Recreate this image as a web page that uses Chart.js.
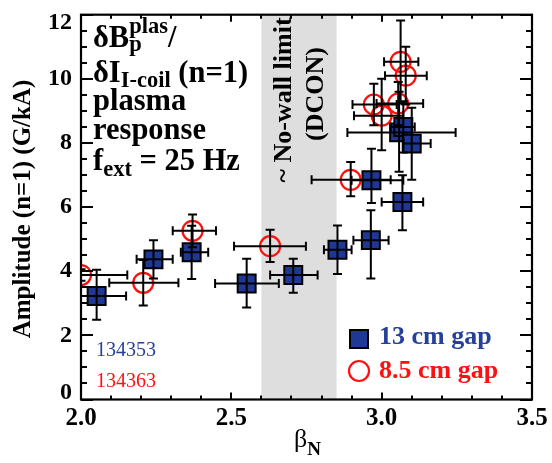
<!DOCTYPE html>
<html>
<head>
<meta charset="utf-8">
<script src="https://cdn.jsdelivr.net/npm/chart.js@4/dist/chart.umd.min.js"></script>
<style>
html,body{margin:0;padding:0;background:#fff;}
canvas{display:block;}
</style>
</head>
<body>
<canvas id="c" width="552" height="463"></canvas>
<script>
// ---- data ----
// 13 cm gap (shot 134353)
const blueX   = [2.052, 2.241, 2.368, 2.551, 2.706, 2.853, 2.964, 2.966, 3.069, 3.058, 3.072, 3.100];
const blueY   = [3.23,  4.37,  4.59,  3.62,  3.88,  4.67,  4.97,  6.84,  6.16,  8.33,  8.50,  7.98];
const blueXLo = [1.95,  2.185, 2.332, 2.446, 2.629, 2.808, 2.906, 2.900, 3.000, 2.886, 3.030, 3.072];
const blueXHi = [2.150, 2.305, 2.423, 2.658, 2.787, 2.900, 3.023, 3.072, 3.138, 3.246, 3.110, 3.163];
const blueYLo = [2.49,  3.77,  3.76,  2.87,  3.33,  3.91,  3.77,  6.13,  5.28,  7.10,  7.70,  6.85];
const blueYHi = [4.05,  4.97,  5.42,  4.39,  4.39,  5.43,  5.90,  7.82,  6.99,  9.60,  9.30,  9.10];
// 8.5 cm gap (shot 134363)
const redX    = [2.000, 2.207, 2.371, 2.629, 2.897, 2.974, 3.000, 3.055, 3.063, 3.080];
const redY    = [3.88,  3.64,  5.26,  4.78,  6.85,  9.20,  8.85,  9.23,  10.53, 10.10];
const redXLo  = [1.850, 2.094, 2.305, 2.509, 2.767, 2.903, 2.908, 2.983, 3.008, 3.011];
const redXHi  = [2.154, 2.324, 2.449, 2.748, 3.030, 3.050, 3.072, 3.138, 3.122, 3.150];
const redYLo  = [3.70,  2.93,  4.75,  4.29,  6.34,  8.55,  7.77,  8.55,  9.24,  9.20];
const redYHi  = [4.06,  4.35,  5.77,  5.29,  7.41,  9.85,  10.00, 9.90,  11.82, 11.00];
// axes
const xTickValues = [2.0, 2.5, 3.0, 3.5];
const yTickValues = [0, 2, 4, 6, 8, 10, 12];
const xMinorStep = 0.1, yMinorStep = 0.5;
const bandRange = [2.6, 2.85];
const seriesLabels = ['13 cm gap', '8.5 cm gap'];
const shotLabels = ['134353', '134363'];

const BLUE_FILL = '#1f3896';
const BLUE_TEXT = '#26409b';
const RED = '#ff1010';
const SERIF = '"Liberation Serif", "Times New Roman", serif';

function pts(xs, ys){ return xs.map((x,i)=>({x:x, y:ys[i]})); }

const bandPlugin = {
  id: 'band',
  beforeDatasetsDraw(chart){
    const {ctx, chartArea:a, scales:{x}} = chart;
    ctx.save();
    const x0 = x.getPixelForValue(bandRange[0]), x1 = x.getPixelForValue(bandRange[1]);
    ctx.fillStyle = '#dedede';
    ctx.fillRect(x0, a.top, x1 - x0, a.bottom - a.top);
    ctx.fillStyle = '#000';
    ctx.font = 'bold 26px ' + SERIF;
    ctx.textAlign = 'center';
    ctx.textBaseline = 'alphabetic';
    ctx.save(); ctx.translate(291, 100); ctx.rotate(-Math.PI/2); ctx.fillText('~ No-wall limit', 0, 0); ctx.restore();
    ctx.save(); ctx.translate(322.5, 94); ctx.rotate(-Math.PI/2); ctx.fillText('(DCON)', 0, 0); ctx.restore();
    ctx.restore();
  }
};

function drawErr(ctx, x, y, xs, ys, xlo, xhi, ylo, yhi){
  const cap = 4.5;
  for (let i=0;i<xs.length;i++){
    const px = x.getPixelForValue(xs[i]), py = y.getPixelForValue(ys[i]);
    const pxl = x.getPixelForValue(xlo[i]), pxh = x.getPixelForValue(xhi[i]);
    const pyl = y.getPixelForValue(ylo[i]), pyh = y.getPixelForValue(yhi[i]);
    ctx.beginPath();
    ctx.moveTo(pxl, py); ctx.lineTo(pxh, py);
    ctx.moveTo(pxl, py-cap); ctx.lineTo(pxl, py+cap);
    ctx.moveTo(pxh, py-cap); ctx.lineTo(pxh, py+cap);
    ctx.moveTo(px, pyl); ctx.lineTo(px, pyh);
    ctx.moveTo(px-cap, pyl); ctx.lineTo(px+cap, pyl);
    ctx.moveTo(px-cap, pyh); ctx.lineTo(px+cap, pyh);
    ctx.stroke();
  }
}

function runs(ctx, x, parts){
  for (const p of parts){
    ctx.font = p.f;
    ctx.fillText(p.t, x, p.y);
    if (!p.stack) x += ctx.measureText(p.t).width;
  }
  return x;
}

const decoPlugin = {
  id: 'deco',
  afterDatasetsDraw(chart){
    const {ctx, chartArea:a, scales:{x, y}} = chart;
    ctx.save();
    ctx.beginPath(); ctx.rect(a.left, a.top, a.right-a.left, a.bottom-a.top); ctx.clip();
    ctx.strokeStyle = '#000'; ctx.lineWidth = 2;
    drawErr(ctx, x, y, blueX, blueY, blueXLo, blueXHi, blueYLo, blueYHi);
    drawErr(ctx, x, y, redX, redY, redXLo, redXHi, redYLo, redYHi);
    ctx.restore();
  },
  afterDraw(chart){
    const {ctx, chartArea:a, scales:{x, y}} = chart;
    ctx.save();
    ctx.strokeStyle = '#000';
    // ticks (inward)
    ctx.lineWidth = 2;
    ctx.beginPath();
    for (let v = x.min; v <= x.max + 1e-9; v += xMinorStep){
      const major = xTickValues.some(t => Math.abs(t - v) < 1e-6);
      const L = major ? 7 : 4;
      const px = Math.round(x.getPixelForValue(v));
      ctx.moveTo(px, a.bottom); ctx.lineTo(px, a.bottom - L);
      ctx.moveTo(px, a.top); ctx.lineTo(px, a.top + L);
    }
    for (let v = y.min; v <= y.max + 1e-9; v += yMinorStep){
      const major = yTickValues.some(t => Math.abs(t - v) < 1e-6);
      const L = major ? 12 : 6;
      const py = Math.round(y.getPixelForValue(v));
      ctx.moveTo(a.left, py); ctx.lineTo(a.left + L, py);
      ctx.moveTo(a.right, py); ctx.lineTo(a.right - L, py);
    }
    ctx.stroke();
    // frame
    ctx.lineWidth = 2.2;
    ctx.strokeRect(a.left, a.top, a.right - a.left, a.bottom - a.top);

    // tick labels
    ctx.fillStyle = '#000';
    ctx.font = 'bold 25px ' + SERIF;
    ctx.textAlign = 'center'; ctx.textBaseline = 'alphabetic';
    for (const v of xTickValues){
      ctx.fillText(v.toFixed(1), x.getPixelForValue(v), 425);
    }
    ctx.font = 'bold 24px ' + SERIF;
    ctx.textAlign = 'right'; ctx.textBaseline = 'middle';
    for (const v of yTickValues){
      let py = y.getPixelForValue(v);
      py = Math.min(Math.max(py, a.top + 8), a.bottom - 7);
      ctx.fillText(String(v), 72, py);
    }
    // axis titles
    ctx.save();
    ctx.translate(30, 209); ctx.rotate(-Math.PI/2);
    ctx.textAlign = 'center'; ctx.textBaseline = 'alphabetic';
    ctx.font = 'bold 25px ' + SERIF;
    ctx.fillText('Amplitude (n=1) (G/kA)', 0, 0);
    ctx.restore();
    ctx.textAlign = 'left'; ctx.textBaseline = 'alphabetic';
    runs(ctx, 294, [
      {t:'β', f:'26px ' + SERIF, y:447},
      {t:'N', f:'bold 19px ' + SERIF, y:455}
    ]);

    // annotation block
    const big = 'bold 30.5px ' + SERIF, sm = 'bold 22.5px ' + SERIF;
    let xx = runs(ctx, 93, [{t:'δB', f:big, y:46.7}]);
    ctx.font = sm;
    ctx.fillText('p', xx, 51);
    let xx2 = runs(ctx, xx, [{t:'plas', f:sm, y:32.5}]);
    runs(ctx, xx2, [{t:'/', f:big, y:46.7}]);
    runs(ctx, 93, [{t:'δI', f:big, y:81.7}, {t:'I-coil', f:sm, y:87}, {t:' (n=1)', f:big, y:81.7}]);
    runs(ctx, 93, [{t:'plasma', f:big, y:110}]);
    runs(ctx, 93, [{t:'response', f:big, y:139}]);
    runs(ctx, 93, [{t:'f', f:big, y:170}, {t:'ext', f:sm, y:175.5}, {t:' = 25 Hz', f:big, y:170}]);

    // shot numbers
    ctx.font = '20px ' + SERIF;
    ctx.fillStyle = BLUE_TEXT; ctx.fillText(shotLabels[0], 96, 356);
    ctx.fillStyle = RED; ctx.fillText(shotLabels[1], 96, 387);

    // legend
    ctx.fillStyle = BLUE_FILL; ctx.strokeStyle = '#000'; ctx.lineWidth = 2;
    ctx.fillRect(350, 330, 18, 18); ctx.strokeRect(350, 330, 18, 18);
    ctx.beginPath(); ctx.arc(359, 371, 10, 0, Math.PI*2);
    ctx.strokeStyle = RED; ctx.lineWidth = 2.2; ctx.stroke();
    ctx.font = 'bold 26px ' + SERIF;
    ctx.fillStyle = BLUE_TEXT; ctx.fillText(seriesLabels[0], 379, 344);
    ctx.fillStyle = RED; ctx.fillText(seriesLabels[1], 379, 378);
    ctx.restore();
  }
};

new Chart(document.getElementById('c'), {
  type: 'scatter',
  data: {
    datasets: [
      { label: seriesLabels[1], data: pts(redX, redY), pointStyle: 'circle', pointRadius: 10,
        backgroundColor: 'rgba(0,0,0,0)', borderColor: RED, borderWidth: 2.2, clip: 0 },
      { label: seriesLabels[0], data: pts(blueX, blueY), pointStyle: 'rect', pointRadius: 12.7,
        backgroundColor: BLUE_FILL, borderColor: '#000', borderWidth: 2, clip: 0 }
    ]
  },
  options: {
    responsive: false,
    animation: false,
    devicePixelRatio: 1,
    layout: { padding: { left: 81, right: 20, top: 9, bottom: 63.5 } },
    plugins: { legend: { display: false }, tooltip: { enabled: false } },
    scales: {
      x: { type: 'linear', min: 2.0, max: 3.5, display: false },
      y: { type: 'linear', min: 0, max: 12, display: false }
    },
    elements: { point: { hoverRadius: 10 } }
  },
  plugins: [bandPlugin, decoPlugin]
});
</script>
</body>
</html>
